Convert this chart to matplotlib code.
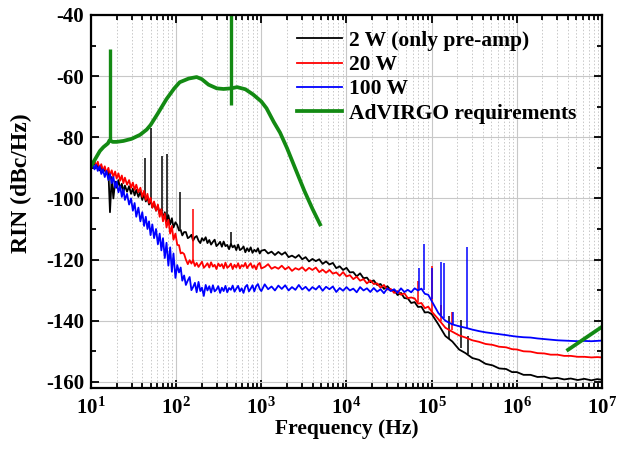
import numpy as np
import matplotlib
matplotlib.use("Agg")
import matplotlib.pyplot as plt
from matplotlib.ticker import LogLocator, MultipleLocator, NullFormatter, FixedLocator

plt.rcParams['font.family'] = ['Liberation Serif', 'DejaVu Serif']
plt.rcParams['font.weight'] = 'bold'
plt.rcParams['mathtext.fontset'] = 'custom'
plt.rcParams['mathtext.rm'] = 'Liberation Serif:bold'
plt.rcParams['mathtext.bf'] = 'Liberation Serif:bold'
plt.rcParams['mathtext.it'] = 'Liberation Serif:bold'
plt.rcParams['mathtext.default'] = 'rm'
plt.rcParams['axes.unicode_minus'] = False

# ---------------- data ----------------
freq_low = [10, 10.5, 11, 11.5, 12, 12.6, 13.2, 13.8, 14.5, 15.2, 16, 16.7, 17.5, 18.3, 19.2,
            20, 21, 22, 23, 24, 25, 26.5, 28, 29.5, 31, 32.5, 34, 36, 38, 40, 42, 44, 46, 48,
            50, 52.5, 55, 58, 61, 64, 67, 70, 73.5, 77, 81, 85, 89, 93, 98, 103, 108, 113,
            118, 124, 130, 137, 144, 151, 158, 166, 174, 183, 192, 201, 211, 222, 233, 245,
            257, 270, 283, 297, 312, 328, 344, 361, 379, 398, 418, 439, 461, 484, 508, 534,
            560, 588, 618, 649, 681, 715, 750, 788, 827, 869, 912, 958, 1000]
freq_mid = [1096, 1202, 1318, 1445, 1585, 1738, 1905, 2089, 2291, 2512, 2754, 3020, 3311, 3631,
            3981, 4365, 4786, 5248, 5754, 6310, 6918, 7586, 8318, 9120, 10000, 10960, 12020,
            13180, 14450, 15850, 17380, 19050, 20890, 22910, 25120, 27540, 30200, 33110, 36310,
            39810, 43650, 47860, 52480, 57540, 63100, 69180, 75860, 83180, 91200]
freq_high = [1e5, 1.2e5, 1.45e5, 1.75e5, 2.1e5, 2.5e5, 3e5, 3.6e5, 4.3e5, 5.2e5, 6.2e5, 7.5e5, 8.8e5,
             1e6, 1.2e6, 1.45e6, 1.75e6, 2.1e6, 2.5e6, 3e6, 3.6e6, 4.3e6, 5.2e6, 6.2e6, 7.5e6, 8.8e6,
             1e7]
x_ticks = [1e1, 1e2, 1e3, 1e4, 1e5, 1e6, 1e7]

rin_2w_low = [-88.0, -89.5, -88.2, -90.0, -89.0, -90.8, -89.4, -91.5, -90.2, -92.0, -91.0, -104.5,
              -93.0, -100.0, -94.5, -96.5, -94.0, -97.0, -95.2, -98.0, -95.8, -97.8, -96.0, -98.5,
              -96.8, -99.0, -97.2, -99.5, -97.8, -100.5, -98.5, -101.0, -99.5, -102.0, -100.5,
              -103.0, -101.5, -104.0, -102.5, -105.0, -103.5, -106.5, -104.5, -107.5, -105.5,
              -108.5, -106.5, -109.5, -107.8,
              -108.7, -110.5, -110.3, -112.1, -111.0, -111.0, -113.0, -112.6, -111.9, -113.8,
              -112.7, -112.3, -113.8, -114.6, -113.0, -113.8, -112.7, -114.6, -113.6, -115.1,
              -114.2, -113.5, -115.6, -115.0, -114.2, -115.8, -114.1, -115.6, -115.2, -116.6,
              -114.9, -116.0, -115.4, -116.9, -115.1, -116.9, -116.5, -115.7, -117.6, -116.3,
              -117.3, -116.0, -117.8, -116.8, -117.4, -116.3, -118.0, -117.1]
rin_2w_mid = [-116.8, -118.0, -117.4, -118.5, -117.5, -118.4, -117.6, -119.2, -118.7, -119.4,
              -118.5, -119.9, -119.2, -120.6, -119.8, -120.5, -119.9, -121.4, -120.6, -121.6,
              -121.1, -122.8, -122.2, -123.4, -122.7, -124.2, -124.1, -125.5, -124.5, -126.1,
              -125.9, -127.4, -126.8, -128.3, -128.0, -129.6, -128.7, -130.0, -130.0, -131.6,
              -130.9, -132.6, -132.7, -134.2, -133.9, -135.5, -135.4, -137.3, -137.2]
rin_2w_high = [-137.8, -141.2, -145.0, -146.8, -149.4, -150.6, -152.2, -152.8, -154.1, -154.6,
               -155.6, -155.8, -156.8, -156.8, -157.7, -157.7, -158.4, -158.3, -158.9, -158.7,
               -159.2, -158.9, -159.4, -159.0, -159.5, -159.1, -159.3]

rin_20w_low = [-87.5, -88.8, -87.8, -89.5, -88.0, -90.2, -88.8, -91.0, -89.5, -91.8, -90.0, -92.5,
               -90.8, -93.0, -91.2, -93.5, -91.8, -94.2, -92.5, -95.0, -93.2, -95.5, -94.0, -96.5,
               -94.8, -97.2, -95.5, -98.0, -96.5, -99.5, -97.5, -100.5, -98.5, -101.5, -99.8,
               -103.0, -101.0, -104.0, -102.0, -106.0, -103.5, -107.5, -105.0, -109.5, -107.0,
               -111.5, -109.0, -113.5, -111.5,
               -115.2, -115.3, -118.0, -117.7, -118.2, -120.0, -121.5, -120.2, -121.3, -120.2,
               -122.1, -121.1, -122.4, -121.5, -120.7, -122.7, -122.0, -121.2, -122.6, -120.9,
               -122.3, -121.7, -123.1, -121.3, -122.2, -121.5, -122.9, -121.0, -122.7, -122.2,
               -121.3, -123.1, -121.7, -122.6, -121.2, -122.9, -121.8, -122.3, -121.1, -122.8,
               -121.9, -121.2, -122.7, -121.9, -123.2, -121.6, -121.1, -122.9]
rin_20w_mid = [-122.4, -121.5, -123.0, -122.4, -123.0, -122.0, -123.2, -122.4, -123.7, -122.8,
               -123.3, -122.5, -123.7, -122.7, -123.4, -122.6, -124.1, -123.3, -124.3, -123.4,
               -124.6, -124.2, -125.3, -124.1, -125.5, -125.1, -126.4, -125.6, -126.9, -126.4,
               -127.8, -126.8, -128.0, -127.8, -129.2, -128.3, -129.8, -129.6, -130.9, -130.3,
               -131.5, -131.0, -132.6, -132.4, -132.7, -134.4, -134.2, -135.9, -135.4]
rin_20w_high = [-137.0, -139.5, -142.3, -143.6, -144.8, -145.5, -146.4, -146.9, -147.6, -147.9,
                -148.5, -148.7, -149.3, -149.4, -150.0, -150.1, -150.6, -150.7, -151.1, -151.1,
                -151.5, -151.5, -151.8, -151.8, -152.0, -151.9, -152.0]

rin_100w_low = [-90.0, -88.5, -90.5, -89.0, -91.0, -89.5, -92.0, -90.5, -93.0, -91.0, -94.0, -92.0,
                -95.0, -93.0, -96.5, -94.5, -98.0, -96.0, -99.5, -97.0, -100.5, -98.5, -102.0, -100.0,
                -104.0, -101.5, -106.0, -103.0, -107.5, -104.5, -109.0, -106.0, -110.0, -107.5, -112.0,
                -108.5, -113.0, -110.0, -115.0, -111.5, -117.0, -113.0, -119.5, -114.5, -122.0, -116.0,
                -124.0, -118.0, -126.0,
                -121.8, -124.2, -122.6, -126.9, -125.2, -128.3, -126.8, -125.7, -130.0, -129.0,
                -127.6, -130.7, -127.3, -130.3, -129.2, -131.9, -128.3, -130.1, -128.7, -130.8,
                -128.4, -130.4, -129.8, -128.7, -130.9, -129.2, -130.3, -128.6, -130.7, -129.3,
                -129.9, -128.5, -130.5, -129.5, -128.6, -130.4, -129.4, -130.9, -128.9, -128.3,
                -130.4, -129.5, -128.4, -130.4, -128.7, -128.0, -129.6, -130.3]
rin_100w_mid = [-128.1, -129.7, -128.8, -130.1, -128.5, -129.6, -128.4, -130.1, -129.0, -129.9,
                -128.3, -129.8, -128.9, -130.2, -129.0, -129.8, -128.6, -130.2, -128.9, -129.7,
                -128.8, -130.6, -129.3, -130.2, -129.0, -130.1, -129.5, -130.7, -129.0, -130.1,
                -129.4, -130.6, -129.3, -130.5, -129.7, -131.0, -129.4, -130.3, -129.7, -130.9,
                -129.4, -130.6, -129.9, -130.7, -129.4, -130.1, -129.5, -131.2, -131.5]
rin_100w_high = [-133.5, -137.5, -140.0, -141.2, -141.8, -142.3, -142.9, -143.4, -143.8, -144.1,
                 -144.4, -144.7, -145.0, -145.2, -145.4, -145.5, -145.8, -146.0, -146.2, -146.4,
                 -146.5, -146.6, -146.7, -146.6, -146.7, -146.6, -146.5]

# narrow spectral spikes: frequency, base level, peak level
spike_2w_f = [42.5, 50, 68, 79, 110, 440, 1.6e5, 2.2e5, 2.7e5]
spike_2w_lo = [-99, -101, -104, -106, -110, -115, -146, -149, -151]
spike_2w_hi = [-86.7, -77, -86, -85.6, -98, -111, -138.5, -139.6, -145]
spike_20w_f = [158, 7.0e4, 1.0e5, 1.3e5, 1.75e5]
spike_20w_lo = [-120, -134, -137, -140, -143]
spike_20w_hi = [-103.6, -127, -122, -135, -137]
spike_100w_f = [7.2e4, 8.1e4, 1.0e5, 1.3e5, 1.38e5, 1.76e5, 2.6e5]
spike_100w_lo = [-130, -130, -133, -138, -139, -141, -142.3]
spike_100w_hi = [-122.6, -114.8, -122.6, -120.8, -121, -137.3, -116]

req_f = [10, 11, 12.7, 14, 15.8, 16.5, 18, 20, 24, 30, 37.6, 45, 50, 60, 77, 95, 110, 140, 174,
         200, 240, 300, 360, 440, 520, 650, 800, 1000, 1150, 1400, 1660, 2000, 2570, 3200, 4000, 4900]
req_rin = [-89.5, -87.5, -84.5, -83.2, -82.0, -81.0, -81.5, -81.5, -81.2, -80.5, -79.2, -77.5, -76.0,
           -72.5, -67.5, -64.0, -62.0, -60.8, -60.3, -61.0, -62.8, -64.0, -64.2, -64.0, -63.6, -64.3,
           -66.0, -68.3, -70.5, -75.0, -78.5, -83.5, -91.0, -97.5, -103.5, -108.5]
req_spike_f = [16.7, 436]
req_spike_lo = [-81, -69.4]
req_spike_hi = [-51, -40]
req_hf_f = [4e6, 1e7]
req_hf_rin = [-149.5, -142]

labels = ['2 W (only pre-amp)', '20 W', '100 W', 'AdVIRGO requirements']
colors = ['black', '#ff0000', '#0000ff', '#138a13']

# ---------------- plot ----------------
fig = plt.figure(figsize=(6.29, 4.5), dpi=100)
ax = fig.add_axes([0.1447, 0.1378, 0.8123, 0.8289])

freq_all = freq_low + freq_mid + freq_high
series = [(rin_2w_low + rin_2w_mid + rin_2w_high, spike_2w_f, spike_2w_lo, spike_2w_hi),
          (rin_20w_low + rin_20w_mid + rin_20w_high, spike_20w_f, spike_20w_lo, spike_20w_hi),
          (rin_100w_low + rin_100w_mid + rin_100w_high, spike_100w_f, spike_100w_lo, spike_100w_hi)]
for (vals, sf, slo, shi), c, lab in zip(series, colors[:3], labels[:3]):
    ax.plot(freq_all, vals, color=c, lw=1.3, label=lab)
    ax.vlines(sf, slo, shi, color=c, lw=1.1)

g = colors[3]
ax.plot(req_f, req_rin, color=g, lw=2.7, label=labels[3])
ax.vlines(req_spike_f, req_spike_lo, req_spike_hi, color=g, lw=2.4)
ax.plot(req_hf_f, req_hf_rin, color=g, lw=2.7)

ax.set_xscale('log')
ax.set_xlim(10, 1e7)
ax.set_ylim(-162, -40)
ax.yaxis.set_major_locator(MultipleLocator(20))
ax.yaxis.set_minor_locator(MultipleLocator(10))
ax.xaxis.set_major_locator(FixedLocator(x_ticks))
ax.xaxis.set_minor_locator(LogLocator(base=10, subs=np.arange(2, 10), numticks=20))
ax.xaxis.set_minor_formatter(NullFormatter())

ax.grid(which='major', axis='both', color='#c8c8c8', lw=0.8, ls='-')
ax.grid(which='minor', axis='x', color='#c8c8c8', lw=0.7, ls=(0, (1.5, 2)))
ax.set_axisbelow(True)

ax.tick_params(which='both', direction='in', top=True, right=True, width=1.3)
ax.tick_params(which='major', length=6, labelsize=15)
ax.tick_params(axis='x', which='major', pad=7)
ax.tick_params(axis='y', which='major', pad=5)
ax.tick_params(which='minor', length=3.5)
for s in ax.spines.values():
    s.set_linewidth(1.6)

ax.set_xlabel('Frequency (Hz)', fontsize=15.5, fontweight='bold', labelpad=0)
ax.set_ylabel('RIN (dBc/Hz)', fontsize=17, fontweight='bold')
ax.yaxis.set_label_coords(-0.115, 0.55)

leg = ax.legend(loc='upper left', bbox_to_anchor=(0.403, 0.958), frameon=False, fontsize=15.5,
                handlelength=2.1, handletextpad=0.33, labelspacing=0.2, borderaxespad=0,
                borderpad=0)

fig.savefig('out.png', dpi=100)
